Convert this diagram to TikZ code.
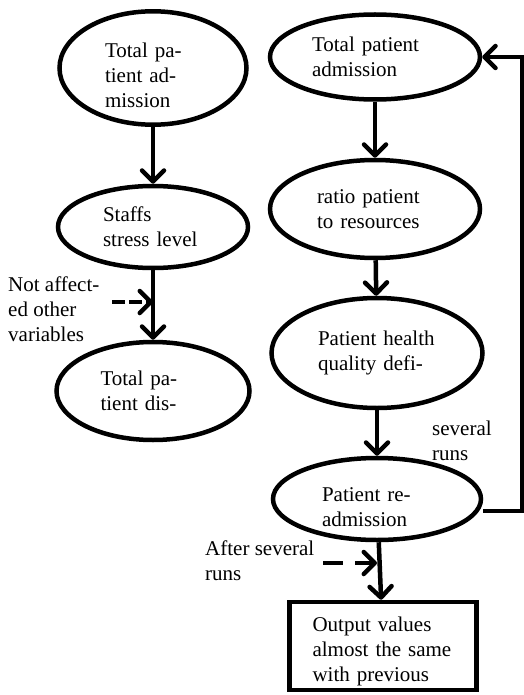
\documentclass[tikz,border=0pt]{standalone}
\usepackage{fontspec}
\setmainfont{Liberation Serif}
\usetikzlibrary{shapes.geometric,arrows.meta}
\tikzset{
  bubble/.style={ellipse, draw, line width=4.5pt, inner sep=0pt, align=left},
  outbox/.style={rectangle, draw, line width=4.5pt, inner sep=0pt, align=left},
  flow/.style={->, line width=4.5pt},
  hint/.style={->, line width=4.5pt},
  note/.style={align=left, inner sep=0pt, anchor=west},
}
\begin{document}
\begin{tikzpicture}[x=1pt, y=-1pt, font=\fontsize{21}{25}\selectfont,
    >={Straight Barb[length=11pt,width=22pt,round]}]
  \useasboundingbox (0,0) rectangle (523,695);
  % left column
  \node[bubble, minimum width=187pt, minimum height=113pt, text width=96pt, text height=30pt] (admL) at (153,68) {Total pa-\\tient ad-\\mission};
  \node[bubble, minimum width=190pt, minimum height=82pt, text width=100pt] (stress) at (153,227) {Staffs\\stress level};
  \node[bubble, minimum width=193pt, minimum height=98pt, text width=105pt] (disch) at (153,391) {Total pa-\\tient dis-};
  \draw[flow] (admL) -- (stress);
  \draw[flow] (stress) -- (disch);
  \node[note] (notaff) at (8,309) {Not affect-\\ed other\\variables};
  \coordinate (hintA) at (112,302);
  \draw[hint, dash pattern=on 13pt off 4pt] (hintA) -- (hintA -| stress.south);
  % right column
  \node[bubble, minimum width=210pt, minimum height=85pt, text width=126pt] (adm) at (375,57) {Total patient\\admission};
  \node[bubble, minimum width=210pt, minimum height=98pt, text width=116pt] (ratio) at (375,209) {ratio patient\\to resources};
  \node[bubble, minimum width=211pt, minimum height=110pt, text width=118pt] (deficit) at (377,353) {Patient health\\quality defi-};
  \node[bubble, minimum width=208pt, minimum height=82pt, text width=110pt, text height=30pt] (readm) at (377,499) {Patient re-\\admission};
  \node[outbox, minimum width=187pt, minimum height=88pt, text width=141pt, text height=26pt] (output) at (383,646) {Output values\\almost the same\\with previous};
  \draw[flow] (adm) -- (ratio);
  \draw[flow] (ratio) -- (deficit);
  \draw[flow] (deficit) -- (readm);
  \draw[flow] (readm) -- (output);
  % feedback loop
  \coordinate (loop) at (522,511);
  \draw[flow] (readm.east |- loop) -- (loop) |- (adm.east);
  \node[note] (sevruns) at (432,441) {several\\runs};
  \node[note] (after) at (205,561) {After several\\runs};
  \coordinate (hintB) at (323,563);
  \draw[hint, dash pattern=on 20pt off 12pt] (hintB) -- (hintB -| readm.south);
\end{tikzpicture}
\end{document}
